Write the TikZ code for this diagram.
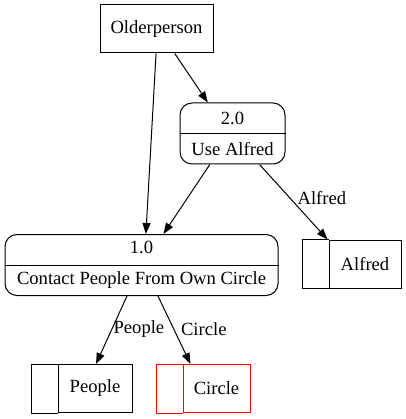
\documentclass[tikz,border=0pt]{standalone}
\usepackage{fontspec}
\setmainfont{Liberation Serif}
\usetikzlibrary{arrows.meta,calc}

\begin{document}
\begin{tikzpicture}[x=1pt, y=-1pt,
		every node/.style={font=\fontsize{18.6}{22}\selectfont},
		flow/.style={draw, line width=1pt, -{Triangle[length=11pt, width=8pt]}},
		entity/.style={draw, line width=1pt, minimum width=113pt, minimum height=48pt, inner sep=0pt},
		process/.style={draw, line width=1pt, rounded corners=12pt, align=center, inner sep=0pt,
			font=\fontsize{18.6}{31}\selectfont},
		store/.style={draw, line width=1pt, minimum height=48pt, inner sep=0pt},
		lbl/.style={right, inner sep=1pt}]
			\useasboundingbox (0,0) rectangle (405,419);

			% external entity
			\node[entity] (older) at (156.5,29) {Olderperson};

			% processes
			\node[process, minimum width=105pt, minimum height=61pt] (p2) at (232.5,133.5) {2.0\\Use Alfred};
			\draw[line width=1pt] (p2.west) -- (p2.east);
			\node[process, minimum width=273pt, minimum height=61pt] (p1) at (141.5,265) {1.0\\Contact People From Own Circle};
			\draw[line width=1pt] (p1.west) -- (p1.east);

			% data stores
			\node[store, minimum width=72pt] (alfred) at (365,264) {Alfred};
			\draw[line width=1pt] (alfred.north west) -- ++(-26,0) |- (alfred.south west);
			\node[store, minimum width=74pt] (people) at (95,388.5) {People};
			\draw[line width=1pt] (people.north west) -- ++(-26,0) |- (people.south west);
			\node[store, minimum width=67pt, draw=red] (circle) at (216.5,388.5) {Circle};
			\draw[line width=1pt, red] (circle.north west) -- ++(-26,0) |- (circle.south west);

			% flows
			\draw[flow] ($(older.south west)!0.496!(older.south east)$) -- ($(p1.north west)!0.516!(p1.north east)$);
			\draw[flow] ($(older.south west)!0.66!(older.south east)$) -- ($(p2.north west)!0.267!(p2.north east)$);
			\draw[flow] ($(p2.south west)!0.286!(p2.south east)$) -- ($(p1.north west)!0.58!(p1.north east)$);
			\draw[flow] ($(p2.south west)!0.755!(p2.south east)$) -- node[lbl, pos=0.45, xshift=6pt] {Alfred} ($(alfred.north west)+(-1,0)$);
			\draw[flow] ($(p1.south west)!0.447!(p1.south east)$) -- node[lbl, pos=0.48] {People} ($(people.north)+(1,0)$);
			\draw[flow] ($(p1.south west)!0.56!(p1.south east)$) -- node[lbl, pos=0.48, xshift=6pt] {Circle} ($(circle.north west)+(8,0)$);
		\end{tikzpicture}
\end{document}
